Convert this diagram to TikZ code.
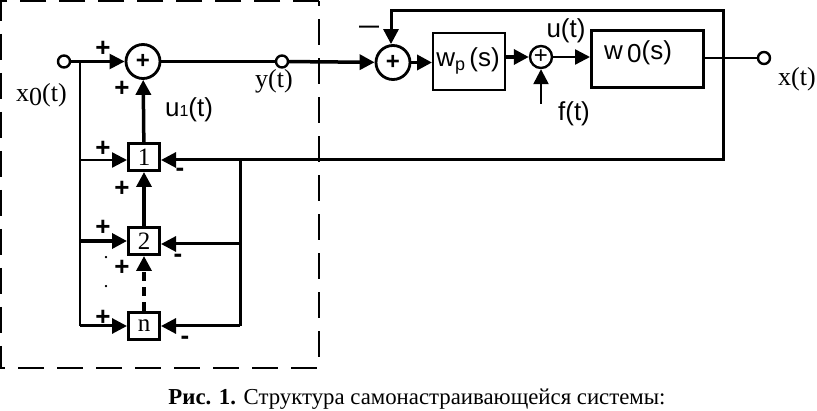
\documentclass[tikz,border=0pt]{standalone}
\usepackage{fontspec}
\setmainfont{Liberation Serif}
\setsansfont{Liberation Sans}
\usetikzlibrary{positioning, arrows.meta}

\begin{document}
\begin{tikzpicture}[
    x=1pt, y=-1pt,
    line width=2.4pt,
    >={Triangle[length=15pt, width=15pt]},
    term/.style={draw, circle, minimum size=12pt, inner sep=0pt},
    sum/.style={draw, circle, line width=2.8pt, minimum size=34pt, inner sep=0pt, font=\fontsize{24}{24}\selectfont\bfseries\sffamily},
    gain/.style={draw, line width=3pt, minimum width=31pt, minimum height=27pt, inner sep=0pt, font=\fontsize{25}{25}\selectfont},
    plant/.style={draw, anchor=north west, inner sep=0pt},
    lbl/.style={inner sep=0pt, font=\fontsize{26}{26}\selectfont},
    slbl/.style={inner sep=0pt, font=\fontsize{26}{26}\selectfont\sffamily},
    sgn/.style={inner sep=0pt, font=\fontsize{26}{26}\selectfont\bfseries\sffamily},
    pt/.style={inner sep=0pt, font=\fontsize{14}{14}\selectfont\bfseries},
]
\useasboundingbox (0,0) rectangle (817,411);

% Dashed frame
\draw[line width=2pt, dash pattern=on 26pt off 13pt] (319,1) -- (1,1) -- (1,368) -- (319,368) -- cycle;

% Left part
\node[term] (x0) at (64,61.5) {};
\node[sum] (s1) at (143,61.5) {+};
\node[term] (yt) at (282,61.5) {};
\node[gain] (g1) at (144,157) {1};
\node[gain] (g2) at (144,241) {2};
\node[gain] (gn) at (144,326) {n};

\coordinate (b0) at (80,61.5);
\coordinate (b1) at (80,160);
\coordinate (b2) at (80,241);
\coordinate (b3) at (80,326);
\coordinate (f1) at (240,160);
\coordinate (f2) at (240,244);
\coordinate (f3) at (240,326);

\draw[->] (x0) -- (s1);
\draw (s1) -- (yt);
\draw (b0) -- (b3);
\draw[->] (b1) -- (g1.west |- b1);
\draw[->, line width=3.5pt] (b2) -- (g2.west |- b2);
\draw[->, line width=3pt] (b3) -- (gn);
\draw[->, line width=3.5pt] (g1) -- (s1);
\draw[->, line width=3.5pt] (g2) -- (g1);
\draw[->, line width=3.5pt, dash pattern=on 9pt off 6pt] (gn) -- (g2);
\draw[line width=3pt] (f1) -- (f3);
\draw[->, line width=3pt] (f2) -- (g2.east |- f2);
\draw[->, line width=3pt] (f3) -- (gn);

% Right part
\node[sum] (s2) at (393,62.5) {+};
\node[plant, line width=2.4pt, minimum width=72pt, minimum height=57pt] (wp) at (432,32) {};
\node[draw, circle, minimum size=22pt, inner sep=0pt, font=\fontsize{24}{24}\selectfont\sffamily] (s3) at (541,57) {+};
\node[plant, line width=3pt, minimum width=112pt, minimum height=57pt] (w0) at (590,29) {};
\node[term] (xt) at (764,58) {};
\coordinate (c1) at (723,58);
\coordinate (c2) at (723,11);
\coordinate (c3) at (391,11);
\coordinate (c4) at (723,160);
\coordinate (ft) at (541,104);

\draw[->, line width=3.5pt] (yt) -- (s2);
\draw[->, line width=3.5pt] (s2.east) -- (wp.west |- s2.east);
\draw[->, line width=3.5pt] (wp.east |- s3) -- (s3);
\draw[->] (s3) -- (w0.west |- s3);
\draw (w0.east |- xt) -- (xt);
\draw[->] (ft) -- (s3);
\draw[->, line width=3pt] (c1) -- (c2) -- (c3) -- (s2.north -| c3);
\draw[->, line width=3pt] (c1) -- (c4) -- (g1.east |- c4);

% Labels
\node[lbl] (lx0) at (41.5,95) {x\raisebox{-4pt}{0}(t)};
\node[lbl] (lyt) at (274,81) {y(t)};
\node[slbl] (lu1) at (189,110) {u\fontsize{16}{16}\selectfont 1\fontsize{26}{26}\selectfont(t)};
\node[slbl] (lut) at (566,31) {u(t)};
\node[slbl] (lft) at (574,114) {f(t)};
\node[lbl] (lxt) at (797,79) {x(t)};
\node[slbl] (lwp) at (468,61) {w\raisebox{-4pt}{\fontsize{18}{18}\selectfont p}\,(s)};
\node[slbl] (lw0) at (638,53) {w\raisebox{-3pt}{\,0}(s)};

\node[sgn] (p1) at (103,49) {+};
\node[sgn] (p2) at (122,89) {+};
\node[sgn] (p3) at (103,149) {+};
\node[sgn] (p4) at (122,189) {+};
\node[sgn] (p5) at (103,228) {+};
\node[sgn] (p6) at (122,268) {+};
\node[sgn] (p7) at (103,318) {+};
\node[sgn] (m1) at (180,172) {-};
\node[sgn] (m2) at (178,258) {-};
\node[sgn] (m3) at (185,340) {-};
\node[sgn, font=\fontsize{20}{20}\selectfont\bfseries\sffamily] (m4) at (369,29) {---};
\node[pt] (d1) at (106,258) {.};
\node[pt] (d2) at (106,287) {.};

% Caption
\node[inner sep=0pt, font=\fontsize{22.8}{23}\selectfont] (cap) at (417,399) {\textbf{Рис. 1.} Структура самонастраивающейся системы:};
\end{tikzpicture}
\end{document}
